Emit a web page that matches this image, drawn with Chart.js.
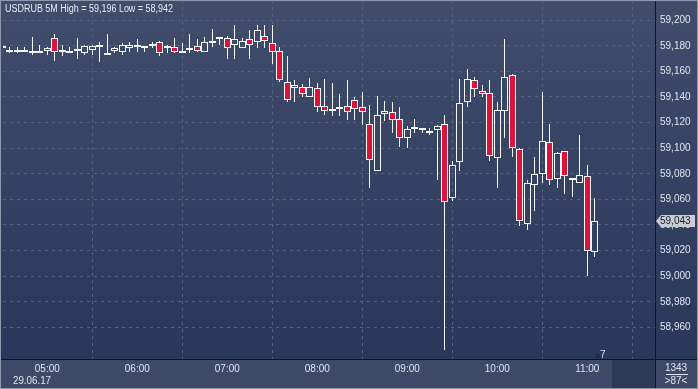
<!DOCTYPE html>
<html><head><meta charset="utf-8">
<style>html,body{margin:0;padding:0;background:#2e3b57;overflow:hidden}#wrap{width:698px;height:389px;position:relative}</style>
<script src="https://cdn.jsdelivr.net/npm/chart.js@4/dist/chart.umd.min.js"></script>
</head><body><div id="wrap"><canvas id="c" width="698" height="389"></canvas></div>
<script>
const symbolTitle = "USDRUB 5M High = 59,196 Low = 58,942";
const dateLabel = "29.06.17";
const times = [
 "04:30","04:35","04:40","04:45","04:50","04:55",
 "05:00","05:05","05:10","05:15","05:20","05:25","05:30","05:35","05:40","05:45","05:50","05:55",
 "06:00","06:05","06:10","06:15","06:20","06:25","06:30","06:35","06:40","06:45","06:50","06:55",
 "07:00","07:05","07:10","07:15","07:20","07:25","07:30","07:35","07:40","07:45","07:50","07:55",
 "08:00","08:05","08:10","08:15","08:20","08:25","08:30","08:35","08:40","08:45","08:50","08:55",
 "09:00","09:05","09:10","09:15","09:20","09:25","09:30","09:35","09:40","09:45","09:50","09:55",
 "10:00","10:05","10:10","10:15","10:20","10:25","10:30","10:35","10:40","10:45","10:50","10:55",
 "11:00","11:05"];
const opens = [
 59.178,59.177,59.177,59.175,59.174,59.174,
 59.176,59.186,59.177,59.174,59.177,59.174,59.177,59.179,59.173,59.176,59.175,59.178,
 59.179,59.178,59.180,59.183,59.178,59.179,59.174,59.177,59.180,59.175,59.182,59.186,
 59.186,59.181,59.178,59.185,59.183,59.188,59.182,59.176,59.152,59.147,59.148,59.140,
 59.147,59.133,59.131,59.131,59.133,59.138,59.132,59.119,59.082,59.127,59.128,59.123,
 59.108,59.115,59.114,59.112,59.114,59.119,59.061,59.089,59.136,59.153,59.145,59.143,
 59.092,59.129,59.157,59.099,59.041,59.071,59.080,59.105,59.076,59.098,59.075,59.073,
 59.078,59.019];
const highs = [
 59.179,59.179,59.179,59.179,59.187,59.181,
 59.179,59.189,59.181,59.179,59.186,59.181,59.181,59.183,59.189,59.179,59.182,59.183,
 59.185,59.179,59.183,59.184,59.181,59.186,59.182,59.189,59.185,59.187,59.193,59.186,
 59.188,59.196,59.186,59.192,59.196,59.196,59.196,59.179,59.172,59.153,59.150,59.155,
 59.151,59.154,59.151,59.142,59.153,59.140,59.144,59.134,59.141,59.137,59.136,59.132,
 59.117,59.123,59.116,59.116,59.118,59.126,59.090,59.154,59.162,59.156,59.149,59.153,
 59.136,59.185,59.158,59.100,59.075,59.093,59.144,59.119,59.097,59.098,59.077,59.110,
 59.087,59.061];
const lows = [
 59.178,59.174,59.174,59.175,59.173,59.174,
 59.173,59.168,59.172,59.174,59.170,59.173,59.173,59.167,59.173,59.174,59.173,59.175,
 59.175,59.175,59.178,59.172,59.174,59.174,59.174,59.174,59.175,59.175,59.179,59.181,
 59.170,59.170,59.178,59.170,59.178,59.178,59.166,59.152,59.136,59.136,59.140,59.140,
 59.128,59.126,59.125,59.125,59.122,59.122,59.118,59.069,59.082,59.121,59.112,59.101,
 59.100,59.112,59.112,59.110,59.075,58.942,59.059,59.082,59.132,59.140,59.140,59.090,
 59.069,59.108,59.093,59.039,59.036,59.051,59.073,59.071,59.069,59.064,59.062,59.073,
 59.000,59.015];
const closes = [
 59.178,59.175,59.175,59.176,59.175,59.175,
 59.178,59.175,59.175,59.175,59.176,59.180,59.180,59.181,59.173,59.178,59.181,59.181,
 59.181,59.178,59.181,59.174,59.178,59.175,59.174,59.177,59.176,59.183,59.182,59.185,
 59.178,59.185,59.184,59.181,59.192,59.184,59.175,59.153,59.138,59.149,59.142,59.148,
 59.132,59.129,59.129,59.131,59.128,59.131,59.128,59.091,59.126,59.129,59.122,59.108,
 59.115,59.115,59.114,59.112,59.117,59.058,59.087,59.135,59.154,59.146,59.142,59.094,
 59.130,59.156,59.100,59.043,59.073,59.080,59.106,59.075,59.096,59.078,59.075,59.079,
 59.020,59.043];
const priceTicks = [59.200,59.180,59.160,59.140,59.120,59.100,59.080,59.060,59.040,59.020,59.000,58.980,58.960];
const lastPrice = 59.043;
const counterTop = "1343";
const counterBottom = ">87<";
const scrollMark = "7";

function hasFont(name){
  const c = document.createElement('canvas').getContext('2d');
  const s = 'USDRUB 59,196 abcdefgHMW';
  c.font = '20px monospace'; const w1 = c.measureText(s).width;
  c.font = "20px '" + name + "', monospace"; const w2 = c.measureText(s).width;
  return Math.abs(w1 - w2) > 0.5;
}
const NARROW = hasFont('Liberation Sans Narrow');
const FONT = NARROW ? "'Liberation Sans Narrow', 'Liberation Sans', Arial, sans-serif" : "'Liberation Sans', Arial, sans-serif";
const FSIZE = NARROW ? 11 : 10;
const RED = '#dc143c';
const WHITE = '#f6f6f6';
const TXT = '#dfe5ee';

const idx = times.map((t,i)=>i);
const hourTicks = idx.filter(i => times[i].endsWith(':00'));
const bodies = idx.map(i => ({x:i, y:[opens[i], closes[i]]}));
const wickUp = idx.map(i => ({x:i, y:[Math.max(opens[i],closes[i]), highs[i]]}));
const wickDn = idx.map(i => ({x:i, y:[lows[i], Math.min(opens[i],closes[i])]}));
const fmt = v => v.toFixed(3).replace('.', ',');

const snapPlugin = {
  id:'snap',
  afterDatasetsUpdate(chart){
    chart.data.datasets.forEach((ds,di)=>{
      chart.getDatasetMeta(di).data.forEach(el=>{
        el.x = Math.floor(el.x) + 0.5;
        el.y = Math.round(el.y);
        el.base = Math.round(el.base);
      });
    });
  }
};

const bgPlugin = {
  id:'bg',
  beforeDraw(chart){
    const c = chart.ctx, W = chart.width, H = chart.height, a = chart.chartArea;
    c.save();
    c.fillStyle = '#3c4a68';
    c.fillRect(0,0,W,H);
    const g = c.createLinearGradient(0,0,0,a.bottom);
    g.addColorStop(0,'#404d6b');
    g.addColorStop(1,'#29375a');
    c.fillStyle = g;
    c.fillRect(0,0,W,a.bottom);
    c.fillStyle = '#2c3a57';
    c.fillRect(612,a.bottom+1,a.right-612,H-a.bottom-1);
    c.restore();
  },
  afterDraw(chart){
    const c = chart.ctx, W = chart.width, H = chart.height, a = chart.chartArea;
    const ys = chart.scales.y;
    c.save();
    c.fillStyle = '#0e1424';
    c.fillRect(a.right,0,1,H);
    c.fillRect(0,a.bottom,W,1);
    c.strokeStyle = '#8d99ad';
    c.lineWidth = 1;
    c.strokeRect(0.5,0.5,W-1,H-1);
    c.fillStyle = '#e6ebf2';
    c.font = FSIZE + 'px ' + FONT;
    c.textBaseline = 'alphabetic';
    c.textAlign = 'left';
    c.fillText(symbolTitle, 5, 12, 168);
    c.fillStyle = TXT;
    c.fillText(dateLabel, 13, 384, 38);
    c.textAlign = 'center';
    c.fillText(counterTop, 676, 371);
    c.fillRect(666,374,22,1);
    c.fillText(counterBottom, 676, 384);
    c.fillStyle = '#1f2a44';
    c.beginPath(); c.moveTo(594,358); c.lineTo(598,353); c.lineTo(602,358); c.closePath(); c.fill();
    c.fillStyle = '#cfe2f5';
    c.textAlign = 'left';
    c.fillText(scrollMark, 600, 358);
    const py = Math.round(ys.getPixelForValue(lastPrice));
    c.fillStyle = '#c9ccd3';
    c.beginPath();
    c.moveTo(a.right+1, py);
    c.lineTo(a.right+6, py-6);
    c.lineTo(695, py-6);
    c.lineTo(695, py+6);
    c.lineTo(a.right+6, py+6);
    c.closePath(); c.fill();
    c.fillStyle = '#151b2a';
    c.textBaseline = 'middle';
    c.fillText(fmt(lastPrice), 660, py+0.5);
    c.restore();
  }
};

new Chart(document.getElementById('c'), {
  type:'bar',
  data:{
    datasets:[
      {label:'body', data:bodies, order:0, grouped:false, barThickness:7, minBarLength:2,
       borderWidth:1, borderSkipped:false, borderColor:WHITE, inflateAmount:0,
       backgroundColor: ctx => { const i = ctx.dataIndex; return closes[i] < opens[i] ? RED : 'rgba(0,0,0,0)'; }},
      {label:'wickUp', data:wickUp, order:1, grouped:false, barThickness:1, borderWidth:0, inflateAmount:0, backgroundColor:WHITE},
      {label:'wickDn', data:wickDn, order:2, grouped:false, barThickness:1, borderWidth:0, inflateAmount:0, backgroundColor:WHITE}
    ]
  },
  options:{
    responsive:false, animation:false, devicePixelRatio:1,
    layout:{padding:{left:3, top:0, right:0, bottom:0}},
    plugins:{legend:{display:false}, tooltip:{enabled:false}},
    scales:{
      x:{type:'linear', min:0.093, max:87.03, offset:false,
         afterFit(s){ s.height = 30; s.paddingLeft = 0; s.paddingRight = 0; },
         afterBuildTicks(s){ s.ticks = hourTicks.map(v=>({value:v})); },
         grid:{color:'#53627f', drawTicks:false, lineWidth:1},
         border:{display:false, dash:[3,4]},
         ticks:{autoSkip:false, maxRotation:0, padding:4, color:TXT, font:{family:FONT, size:FSIZE},
                callback:v => times[v]}},
      y:{type:'linear', position:'right', min:58.93531, max:59.21578,
         afterFit(s){ s.width = 43; s.paddingTop = 0; s.paddingBottom = 0; },
         afterBuildTicks(s){ s.ticks = priceTicks.map(v=>({value:v})); },
         grid:{color:'#53627f', drawTicks:false, lineWidth:1},
         border:{display:false, dash:[3,4]},
         ticks:{padding:5, color:TXT, font:{family:FONT, size:FSIZE}, callback:v => fmt(v)}}
    }
  },
  plugins:[snapPlugin, bgPlugin]
});
</script></body></html>
